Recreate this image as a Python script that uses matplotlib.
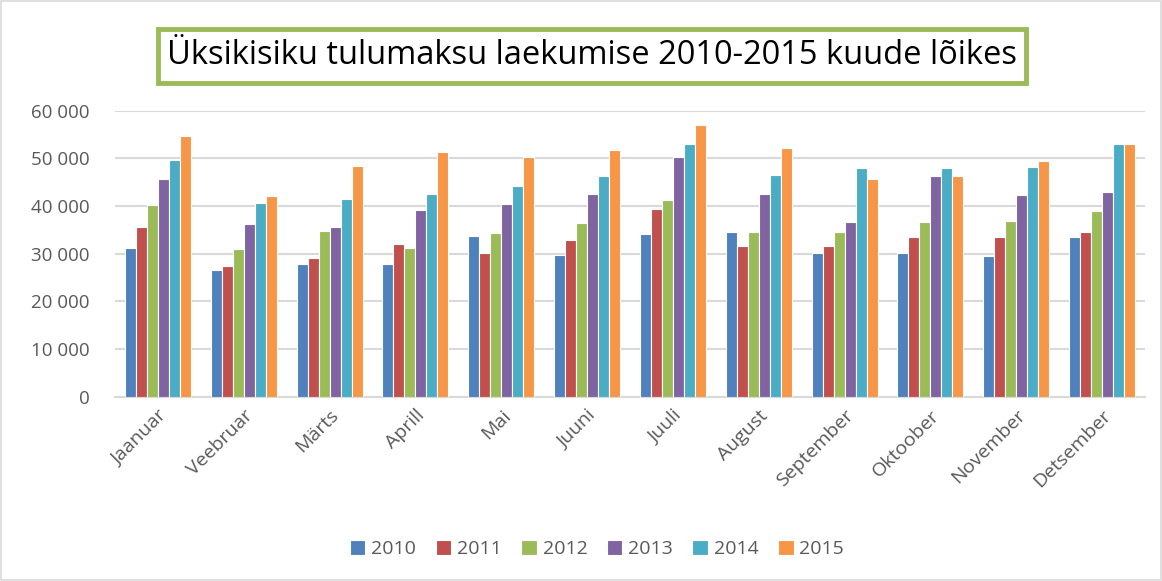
import matplotlib
matplotlib.use("Agg")
import matplotlib.pyplot as plt
import numpy as np
from matplotlib.ticker import FuncFormatter
from matplotlib.patches import Rectangle

months = ["Jaanuar", "Veebruar", "Märts", "Aprill", "Mai", "Juuni", "Juuli",
          "August", "September", "Oktoober", "November", "Detsember"]
years = ["2010", "2011", "2012", "2013", "2014", "2015"]
v2010 = [31300, 26500, 27800, 27800, 33700, 29700, 34100, 34500, 30200, 30100, 29600, 33400]
v2011 = [35700, 27400, 29200, 32100, 30100, 32900, 39400, 31600, 31600, 33600, 33400, 34500]
v2012 = [40200, 30900, 34700, 31300, 34300, 36400, 41300, 34500, 34500, 36700, 36800, 39000]
v2013 = [45600, 36200, 35500, 39100, 40500, 42500, 50200, 42500, 36600, 46200, 42300, 43000]
v2014 = [49650, 40600, 41500, 42500, 44100, 46300, 53100, 46600, 48000, 47900, 48100, 53000]
v2015 = [54600, 42200, 48400, 51300, 50200, 51700, 57000, 52100, 45600, 46200, 49500, 53000]
series = [v2010, v2011, v2012, v2013, v2014, v2015]
colors = ["#4F81BD", "#C0504D", "#9BBB59", "#8064A2", "#4BACC6", "#F79646"]

plt.rcParams['font.family'] = ['Open Sans', 'DejaVu Sans']

fig = plt.figure(figsize=(11.62, 5.81), dpi=100)
ax = fig.add_axes([115/1162, 1-396.7/581, 1030/1162, 286/581])

x = np.arange(len(months))
w = 0.128
for i, (vals, c, yr) in enumerate(zip(series, colors, years)):
    ax.bar(x + (i - 2.5) * w, vals, width=w, color=c, edgecolor="white",
           linewidth=0.8, label=yr, zorder=3)

ax.set_xlim(-0.5, len(months) - 0.5)
ax.set_ylim(0, 60000)
ax.set_yticks(np.arange(0, 60001, 10000))
ax.yaxis.set_major_formatter(FuncFormatter(lambda v, p: f"{int(v):,}".replace(",", " ")))
ax.grid(axis="y", color="#D9D9D9", linewidth=1.5, zorder=0)
for s in ["top", "right", "left"]:
    ax.spines[s].set_visible(False)
ax.spines["bottom"].set_color("#D9D9D9")
ax.spines["bottom"].set_linewidth(1.5)
ax.tick_params(axis="both", length=0, colors="#595959", labelsize=14)
ax.tick_params(axis="y", pad=18, labelsize=13.5)
ax.set_xticks(x)
ax.set_xticklabels(months, rotation=45, ha="right", rotation_mode="anchor")
ax.tick_params(axis="x", pad=7)

# title box
fig.patches.append(Rectangle((158/1162, 1-83/581), 868/1162, 54/581,
                             transform=fig.transFigure, facecolor="white",
                             edgecolor="#9BBB59", linewidth=3.5, zorder=5))
fig.text(592/1162, 1-56/581, "Üksikisiku tulumaksu laekumise 2010-2015 kuude lõikes",
         ha="center", va="center", fontsize=23.5, color="black", zorder=6)

# figure border
fig.patches.append(Rectangle((1/1162, 1/581), 1160/1162, 579/581,
                             transform=fig.transFigure, facecolor="none",
                             edgecolor="#D9D9D9", linewidth=1.2))

leg = fig.legend(loc="center", bbox_to_anchor=(597/1162, 1-549/581), ncol=6,
                 frameon=False, fontsize=14, handlelength=0.8, handleheight=0.8,
                 handletextpad=0.3, columnspacing=1.0, labelcolor="#595959")

fig.savefig("out.png", dpi=100)
